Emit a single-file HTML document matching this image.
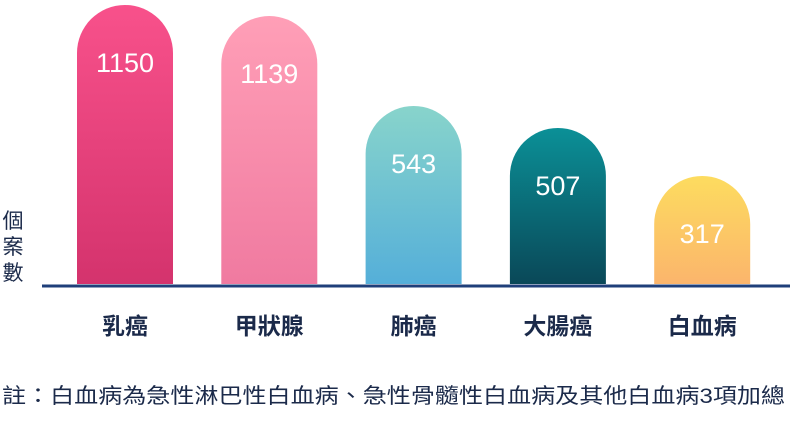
<!DOCTYPE html>
<html><head><meta charset="utf-8"><style>
body{margin:0;background:#fff;width:790px;height:418px;overflow:hidden;font-family:"Liberation Sans","Noto Sans CJK TC",sans-serif}
</style></head><body>
<svg id="c" width="790" height="418">
<defs>
<linearGradient id="g0" x1="0" y1="0" x2="0" y2="1"><stop offset="0" stop-color="#f8518b"/><stop offset="1" stop-color="#d4336d"/></linearGradient>
<linearGradient id="g1" x1="0" y1="0" x2="0" y2="1"><stop offset="0" stop-color="#ff9fb7"/><stop offset="1" stop-color="#f07aa0"/></linearGradient>
<linearGradient id="g2" x1="0" y1="0" x2="0" y2="1"><stop offset="0" stop-color="#88d4cb"/><stop offset="1" stop-color="#55afd9"/></linearGradient>
<linearGradient id="g3" x1="0" y1="0" x2="0" y2="1"><stop offset="0" stop-color="#0b9097"/><stop offset="1" stop-color="#0a4858"/></linearGradient>
<linearGradient id="g4" x1="0" y1="0" x2="0" y2="1"><stop offset="0" stop-color="#fddc5f"/><stop offset="1" stop-color="#fbb56c"/></linearGradient>
</defs>
</svg>
<script>
const categories=["乳癌","甲狀腺","肺癌","大腸癌","白血病"];
const values=[1150,1139,543,507,317];
const svg=document.getElementById('c');const NS='http://www.w3.org/2000/svg';
const base=284,bw=96,x0=77,step=144.3;
// non-linear designer scale (piecewise) : domain knots -> pixel heights
const scaleD=[0,317,507,543,1139,1150,2000],scaleR=[0,108,156,178,268,279,330];
function hScale(v){for(let k=1;k<scaleD.length;k++){if(v<=scaleD[k]){const t=(v-scaleD[k-1])/(scaleD[k]-scaleD[k-1]);return scaleR[k-1]+t*(scaleR[k]-scaleR[k-1]);}}return scaleR[scaleR.length-1];}
function yScale(v){return base-hScale(v);}
function xScale(i){return x0+i*step;}
function mk(t,a){const e=document.createElementNS(NS,t);for(const k in a)e.setAttribute(k,a[k]);svg.appendChild(e);return e;}
values.forEach((v,i)=>{
 const x=xScale(i),top=yScale(v),r=bw/2;
 const p=mk('path',{d:`M${x},${base} L${x},${top+r} A${r},${r} 0 0 1 ${x+bw},${top+r} L${x+bw},${base} Z`,fill:`url(#g${i})`});
 
 
 const t=mk('text',{x:x+bw/2,y:top+67,'text-anchor':'middle','font-size':'27',fill:'#fff'});
 t.textContent=v;
 
 
 const c=mk('text',{x:x+bw/2,y:334,'text-anchor':'middle','font-size':'23','font-weight':'bold',fill:'#1b2a4a'});
 c.textContent=categories[i];
 
 
});
const ax=mk('line',{x1:42,y1:286,x2:790,y2:286,stroke:'#1f3f7a','stroke-width':3});


["個","案","數"].forEach((ch,i)=>{const t=mk('text',{x:13,y:228+i*26,'text-anchor':'middle','font-size':'21',fill:'#1b2a4a'});t.textContent=ch;

});
const n=mk('text',{x:2,y:403,'font-size':'21',fill:'#1b2a4a',textLength:'783',lengthAdjust:'spacingAndGlyphs'});
n.textContent='註：白血病為急性淋巴性白血病、急性骨髓性白血病及其他白血病3項加總';


</script>
</body></html>
